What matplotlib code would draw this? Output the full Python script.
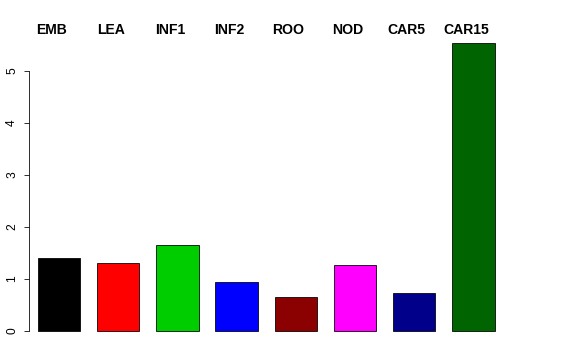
import matplotlib
matplotlib.use("Agg")
import matplotlib.pyplot as plt
import matplotlib.transforms as mtransforms

categories = ["EMB", "LEA", "INF1", "INF2", "ROO", "NOD", "CAR5", "CAR15"]
values = [1.40, 1.31, 1.65, 0.95, 0.66, 1.27, 0.73, 5.54]
colors = ["#000000", "#FF0000", "#00CD00", "#0000FF", "#8B0000", "#FF00FF", "#00008B", "#006400"]
yticks = [0, 1, 2, 3, 4, 5]

plt.rcParams['font.family'] = ['Liberation Sans', 'DejaVu Sans']

W, H = 576, 360
fig = plt.figure(figsize=(8, 5), dpi=72)
# pixel geometry
left_px, right_px = 29, 547
bottom_px, top_px = 331, 35
ax = fig.add_axes([left_px / W, 1 - bottom_px / H, (right_px - left_px) / W, (bottom_px - top_px) / H])

px_per_unit = 59.2 / 1.4
origin_px = 59 - 0.9 * px_per_unit
ax.set_xlim((left_px - origin_px) / px_per_unit, (right_px - origin_px) / px_per_unit)
ax.set_ylim(0, (bottom_px - top_px) / 52.0)

centers = [0.9 + 1.4 * i for i in range(len(categories))]
ax.bar(centers, values, width=1.0, color=colors, edgecolor="black", linewidth=0.8, clip_on=False)

for s in ["top", "right", "bottom"]:
    ax.spines[s].set_visible(False)
ax.spines["left"].set_bounds(0, 5)
ax.spines["left"].set_linewidth(0.8)
ax.set_xticks([])
ax.set_yticks(yticks)
ax.set_yticklabels([str(t) for t in yticks], rotation=90, va="center", fontsize=12)
ax.tick_params(axis="y", length=5, width=0.8, pad=6)

label_offset = -7.5 / px_per_unit
trans = mtransforms.blended_transform_factory(ax.transData, fig.transFigure)
for x, c in zip(centers, categories):
    ax.text(x + label_offset, 1 - 29.7 / H, c, transform=trans, ha="center", va="center",
            fontsize=14, fontweight="bold")

fig.savefig("out.png", dpi=72)
